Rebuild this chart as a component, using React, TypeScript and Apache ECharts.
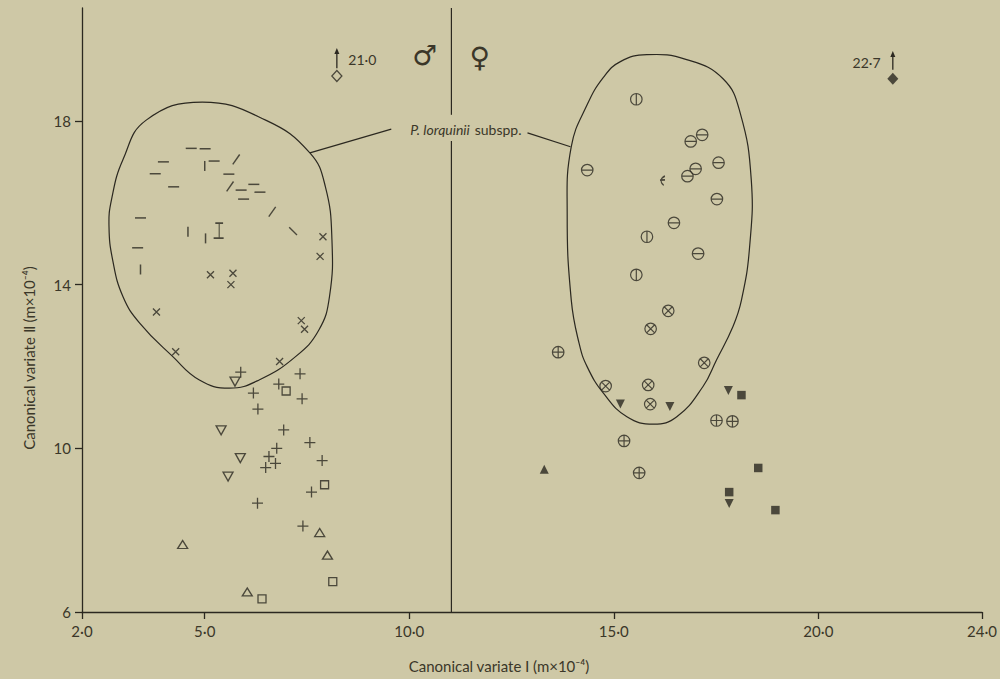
import React, { useEffect, useRef } from 'react';
import * as echarts from 'echarts';

const INK = '#2b2820';
const TXT = '#3b3729';
const BG = '#cec8a6';
const FONT = 'Lato, "Open Sans", sans-serif';

// ---- axes ----
const xMin = 2;
const xMax = 24;
const yMin = 6;
const yMax = 20.76;
const xTicks = [2, 5, 10, 15, 20, 24];
const xTickLabels = ['2·0', '5·0', '10·0', '15·0', '20·0', '24·0'];
const yTicks = [6, 10, 14, 18];
const yTickLabels = ['6', '10', '14', '18'];
const xTitle = 'Canonical variate Ⅰ (m×10⁻⁴)';
const yTitle = 'Canonical variate Ⅱ (m×10⁻⁴)';

// ---- males (left) ----
const dashHorizontal = [
  [4.67, 17.33], [5.01, 17.32], [3.99, 17.0], [5.23, 17.02], [3.79, 16.71], [5.59, 16.70],
  [6.20, 16.45], [5.89, 16.31], [6.35, 16.26], [4.24, 16.39], [5.95, 16.09], [3.43, 15.63], [3.36, 14.90],
];
const dashVertical = [[5.00, 16.90], [3.43, 14.37], [4.59, 15.29], [5.02, 15.13]];
const dashSlash = [[5.77, 17.06], [5.62, 16.40], [6.65, 15.78]];
const dashBackslash = [[7.16, 15.31]];
const iBeam = [[5.34, 15.32]];
const crosses = [
  [7.89, 15.17], [7.82, 14.69], [5.14, 14.24], [5.69, 14.28], [5.64, 14.00], [3.82, 13.33],
  [7.36, 13.12], [7.44, 12.91], [4.29, 12.36], [6.83, 12.12],
];
const pluses = [
  [5.88, 11.86], [7.33, 11.82], [6.81, 11.57], [6.19, 11.35], [7.38, 11.21], [6.30, 10.96],
  [6.93, 10.45], [7.57, 10.14], [6.76, 10.0], [6.57, 9.80], [6.73, 9.63], [6.49, 9.53],
  [7.87, 9.70], [7.61, 8.93], [6.29, 8.66], [7.40, 8.10],
];
const openDownTriangles = [[5.74, 11.63], [5.40, 10.44], [5.87, 9.76], [5.57, 9.31]];
const openUpTriangles = [[7.81, 7.94], [4.46, 7.65], [8.00, 7.39], [6.04, 6.49]];
const openSquares = [[6.99, 11.40], [7.93, 9.11], [8.13, 6.74], [6.40, 6.32]];
const openDiamond = [[8.23, 19.10]];

// ---- females (right) ----
const circleHorizontal = [
  [17.16, 17.66], [16.88, 17.50], [17.56, 16.98], [14.35, 16.80], [17.0, 16.83],
  [16.80, 16.65], [17.52, 16.09], [16.47, 15.51], [17.06, 14.76],
];
const circleVertical = [[15.55, 18.53], [15.81, 15.17], [15.55, 14.24]];
const circleCross = [[16.33, 13.36], [15.90, 12.92], [17.21, 12.09], [14.80, 11.52], [15.84, 11.55], [15.89, 11.08]];
const circlePlus = [[13.64, 12.35], [17.51, 10.68], [17.90, 10.66], [15.25, 10.18], [15.62, 9.40]];
const filledDownTriangles = [[15.16, 11.08], [16.37, 11.02], [17.80, 11.41], [17.82, 8.65]];
const filledUpTriangles = [[13.30, 9.49]];
const filledSquares = [[18.12, 11.30], [18.53, 9.52], [17.82, 8.93], [18.95, 8.49]];
const filledDiamond = [[21.82, 19.03]];
const brokenMark = [[16.19, 16.54]];

// off-scale values written beside the two diamonds
const offScaleLabels = ['21·0', '22·7'];

// ---- hand-drawn envelopes of P. lorquinii subspp. ----
const leftEnvelope = [
  [4.94, 18.46], [6.49, 18.02], [7.57, 17.22], [7.95, 16.39], [8.11, 15.09], [8.05, 13.71],
  [7.79, 12.89], [7.22, 12.24], [6.33, 11.67], [5.60, 11.47], [4.87, 11.67], [4.22, 12.24],
  [3.41, 13.06], [3.00, 13.71], [2.75, 14.60], [2.66, 15.42], [2.72, 16.07], [3.00, 17.05], [3.57, 18.02],
];
const rightEnvelope = [
  [15.81, 19.62], [16.78, 19.50], [17.67, 19.03], [18.09, 18.19], [18.36, 16.56], [18.32, 14.93],
  [18.12, 13.62], [17.91, 12.97], [17.51, 12.16], [17.18, 11.51], [16.54, 10.77], [15.97, 10.59],
  [15.32, 10.77], [14.75, 11.34], [14.35, 11.99], [14.15, 12.57], [13.96, 13.62], [13.86, 15.74],
  [13.96, 17.37], [14.35, 18.40], [14.75, 19.07], [15.16, 19.45],
];

// ---- annotation anchors (data units) ----
const dividerX = 11.03;
const dividerGap = [17.51, 18.15];
const leaderLeft = [[9.56, 17.80], [7.57, 17.22]];
const leaderRight = [[12.89, 17.71], [13.94, 17.37]];

const CIRCLE = 'M0,10A10,10,0,1,1,20,10A10,10,0,1,1,0,10Z';
const SYM = {
  circleH: 'path://' + CIRCLE + 'M0,10L20,10',
  circleV: 'path://' + CIRCLE + 'M10,0L10,20',
  circleX: 'path://' + CIRCLE + 'M3,3L17,17M17,3L3,17',
  circleP: 'path://' + CIRCLE + 'M10,0L10,20M0,10L20,10',
  cross: 'path://M0,0L20,20M20,0L0,20',
  plus: 'path://M10,0L10,20M0,10L20,10',
  ibeam: 'path://M3,0L17,0M10,0L10,28M0,28L18,28',
  broken: 'path://M9,0C1,4,1,14,7,20M1,9L9,8',
};

const openStyle = { color: 'rgba(0,0,0,0)', borderColor: INK, borderWidth: 1.3 };
const solidStyle = { color: INK, borderWidth: 0 };

function scatter(name: string, data: number[][], symbol: string, size: any, style: any, rotate = 0) {
  return {
    name,
    type: 'scatter',
    data,
    symbol,
    symbolSize: size,
    symbolRotate: rotate,
    itemStyle: style,
    silent: true,
    emphasis: { disabled: true },
    z: 3,
  };
}

function envelope(name: string, pts: number[][]) {
  return {
    name,
    type: 'custom',
    silent: true,
    z: 2,
    data: [pts[0]],
    renderItem: (_p: any, api: any) => ({
      type: 'polygon',
      shape: { points: pts.map((p) => api.coord(p)), smooth: 0.45 },
      style: { fill: 'none', stroke: INK, lineWidth: 1.2 },
    }),
  };
}

function arrow(api: any, x: number, y0: number, y1: number) {
  const a = api.coord([x, y0]);
  const b = api.coord([x, y1]);
  return [
    { type: 'line', shape: { x1: a[0], y1: a[1], x2: b[0], y2: b[1] + 3 }, style: { stroke: INK, lineWidth: 1.3 } },
    { type: 'polygon', shape: { points: [[b[0], b[1]], [b[0] - 2.5, b[1] + 6], [b[0] + 2.5, b[1] + 6]] }, style: { fill: INK } },
  ];
}

function line(api: any, p: number[], q: number[]) {
  const a = api.coord(p);
  const b = api.coord(q);
  return { type: 'line', shape: { x1: a[0], y1: a[1], x2: b[0], y2: b[1] }, style: { stroke: INK, lineWidth: 1.2 } };
}

function text(api: any, p: number[], str: string, font: string, align: string) {
  const a = api.coord(p);
  return {
    type: 'text',
    x: a[0],
    y: a[1],
    style: { text: str, font, fill: TXT, align, verticalAlign: 'middle' },
  };
}

const annotations = {
  name: 'annotations',
  type: 'custom',
  silent: true,
  z: 4,
  data: [[dividerX, yMin]],
  renderItem: (_p: any, api: any) => ({
    type: 'group',
    children: [
      line(api, [dividerX, yMax], [dividerX, dividerGap[1]]),
      line(api, [dividerX, dividerGap[0]], [dividerX, yMin]),
      line(api, leaderLeft[0], leaderLeft[1]),
      line(api, leaderRight[0], leaderRight[1]),
      text(api, [11.48, 17.80], 'P. lorquinii', 'italic 14px ' + FONT, 'right'),
      text(api, [11.60, 17.80], 'subspp.', '14px ' + FONT, 'left'),
      text(api, [10.38, 19.59], '♂', 'bold 28px "DejaVu Sans", sans-serif', 'center'),
      text(api, [11.72, 19.54], '♀', 'bold 28px "DejaVu Sans", sans-serif', 'center'),
      ...arrow(api, openDiamond[0][0], 19.29, 19.78),
      text(api, [8.51, 19.51], offScaleLabels[0], '14px ' + FONT, 'left'),
      ...arrow(api, filledDiamond[0][0], 19.25, 19.71),
      text(api, [21.52, 19.42], offScaleLabels[1], '14px ' + FONT, 'right'),
    ],
  }),
};

const option = {
  animation: false,
  backgroundColor: BG,
  grid: { left: 82, right: 13, top: 8, bottom: 67, containLabel: false },
  xAxis: {
    type: 'value',
    min: xMin,
    max: xMax,
    name: xTitle,
    nameLocation: 'middle',
    nameGap: 46,
    nameTextStyle: { color: TXT, fontSize: 15, fontFamily: FONT, padding: [0, 66, 0, 0] },
    axisLine: { show: true, lineStyle: { color: INK, width: 1.3 } },
    axisTick: { show: true, length: 7, customValues: xTicks, lineStyle: { color: INK, width: 1.3 } },
    axisLabel: {
      customValues: xTicks,
      margin: 11,
      color: TXT,
      fontSize: 15,
      fontFamily: FONT,
      formatter: (v: number) => xTickLabels[xTicks.indexOf(v)] ?? '',
    },
    splitLine: { show: false },
  },
  yAxis: {
    type: 'value',
    min: yMin,
    max: yMax,
    name: yTitle,
    nameLocation: 'middle',
    nameGap: 46,
    nameTextStyle: { color: TXT, fontSize: 15, fontFamily: FONT, padding: [0, 96, 0, 0] },
    axisLine: { show: true, lineStyle: { color: INK, width: 1.3 } },
    axisTick: { show: true, length: 7, customValues: yTicks, lineStyle: { color: INK, width: 1.3 } },
    axisLabel: {
      customValues: yTicks,
      margin: 11,
      color: TXT,
      fontSize: 15,
      fontFamily: FONT,
      formatter: (v: number) => yTickLabels[yTicks.indexOf(v)] ?? '',
    },
    splitLine: { show: false },
  },
  series: [
    envelope('leftEnvelope', leftEnvelope),
    envelope('rightEnvelope', rightEnvelope),
    annotations,
    scatter('dashH', dashHorizontal, 'rect', [11, 1.5], solidStyle),
    scatter('dashV', dashVertical, 'rect', [10, 1.5], solidStyle, 90),
    scatter('dashSlash', dashSlash, 'rect', [12, 1.4], solidStyle, 55),
    scatter('dashBackslash', dashBackslash, 'rect', [11, 1.4], solidStyle, -45),
    scatter('iBeam', iBeam, SYM.ibeam, [10, 15], openStyle),
    scatter('crosses', crosses, SYM.cross, 7, openStyle),
    scatter('pluses', pluses, SYM.plus, 11, openStyle),
    scatter('openDownTri', openDownTriangles, 'triangle', [10, 9], openStyle, 180),
    scatter('openUpTri', openUpTriangles, 'triangle', [10, 8], openStyle),
    scatter('openSquares', openSquares, 'rect', 8, openStyle),
    scatter('openDiamond', openDiamond, 'diamond', [10, 11], openStyle),
    scatter('circleH', circleHorizontal, SYM.circleH, 11.5, { ...openStyle, borderWidth: 1.2 }),
    scatter('circleV', circleVertical, SYM.circleV, 11.5, { ...openStyle, borderWidth: 1.2 }),
    scatter('circleX', circleCross, SYM.circleX, 11.5, { ...openStyle, borderWidth: 1.2 }),
    scatter('circleP', circlePlus, SYM.circleP, 11.5, { ...openStyle, borderWidth: 1.2 }),
    scatter('filledDownTri', filledDownTriangles, 'triangle', [9, 9], solidStyle, 180),
    scatter('filledUpTri', filledUpTriangles, 'triangle', [9, 9], solidStyle),
    scatter('filledSquares', filledSquares, 'rect', 8.5, solidStyle),
    scatter('filledDiamond', filledDiamond, 'diamond', [11, 12], solidStyle),
    scatter('broken', brokenMark, SYM.broken, [5, 9], openStyle),
  ],
};

export default function App() {
  const ref = useRef<HTMLDivElement>(null);
  useEffect(() => {
    document.body.style.margin = '0';
    document.body.style.background = BG;
    const chart = echarts.init(ref.current as HTMLDivElement, null, { renderer: 'svg' });
    chart.setOption(option as any);
    return () => chart.dispose();
  }, []);
  return <div ref={ref} style={{ width: 1000, height: 679 }} />;
}
